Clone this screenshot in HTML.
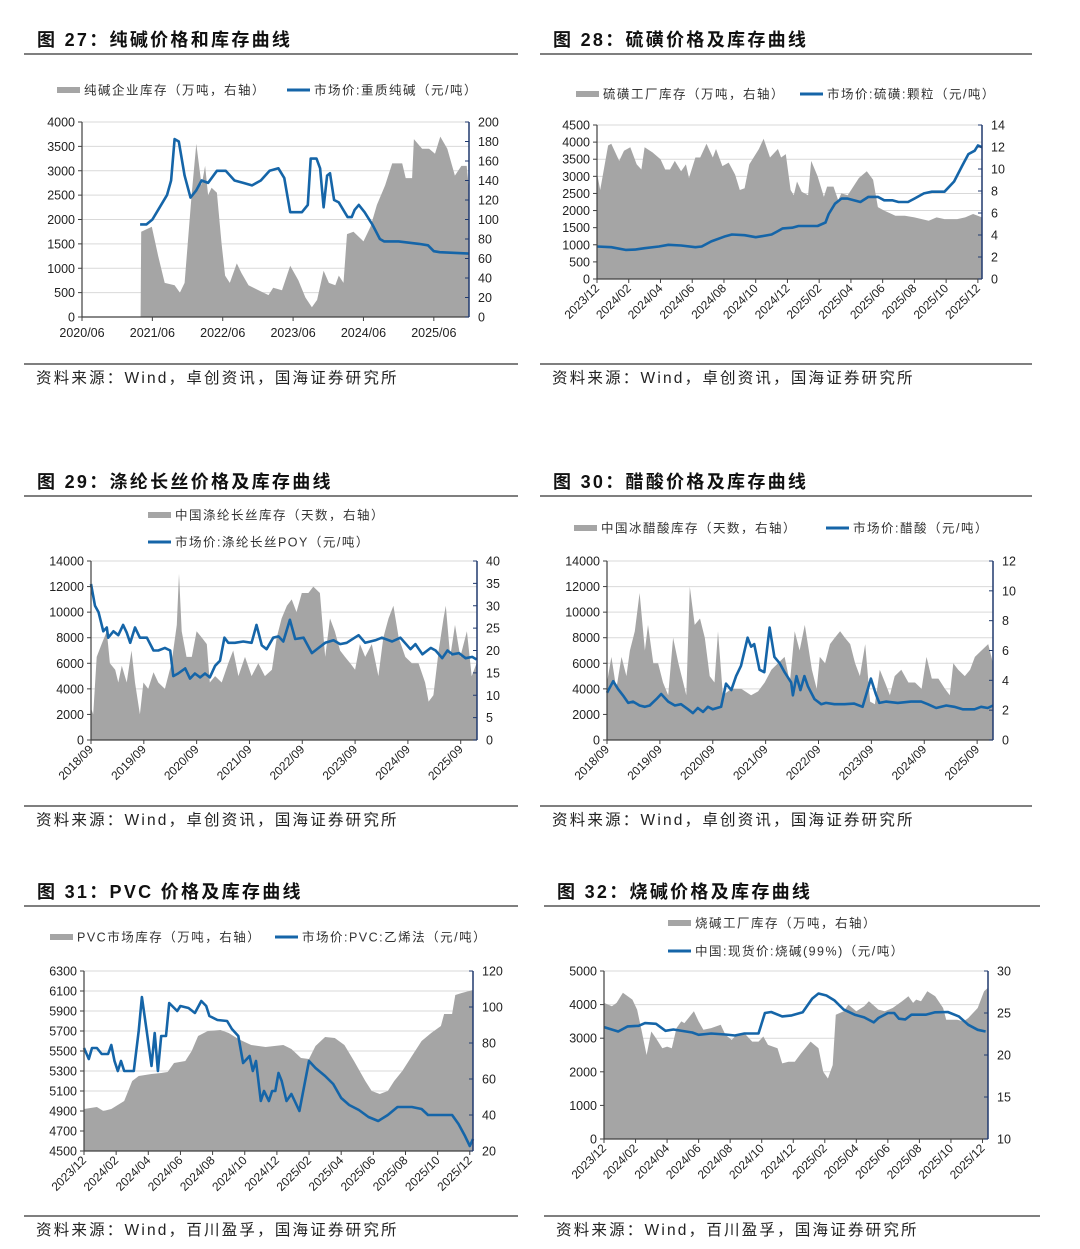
<!DOCTYPE html>
<html><head><meta charset="utf-8">
<style>
html,body{margin:0;padding:0;background:#fff;}
svg{display:block;font-family:"Liberation Sans","Noto Sans CJK SC",sans-serif;}
</style></head>
<body>
<svg id="root" width="1080" height="1249" viewBox="0 0 1080 1249" xmlns="http://www.w3.org/2000/svg"></svg>
<script>
// ===== Chart 27 data =====
const c27StockMonths=[10,10.1,11.9,13,14.1,15.8,16.7,17.5,18.7,19.5,20.4,21,21.5,22.1,23,23.8,24.4,25.2,26.4,27.2,28.4,30.1,31.8,32.6,34.1,35.5,36.9,38.1,39.2,40.1,41.2,42.1,43.2,43.8,44.6,45.2,46.3,48,49.2,50.3,51.7,52.9,54.6,55.2,56.3,56.6,58,59.2,60.2,61.1,62.3,63.6,64.7,65.6,66];
const c27Stock=[0,1750,1850,1250,700,650,500,700,2500,3550,2700,3100,2500,2650,2550,1500,850,700,1100,900,650,550,450,600,550,1050,750,400,200,350,950,700,650,850,700,1700,1750,1550,1850,2300,2700,3150,3150,2850,2850,3650,3450,3450,3350,3700,3450,2900,3100,3100,2600];
const c27PriceMonths=[9.9,11,12,13,14.5,15.2,15.8,16.5,17.5,18.5,19.5,20.4,21.5,23,24.5,26,27.5,29,30.5,32,33.5,34.5,35.5,37.5,38.5,39,40,40.6,41.2,41.8,42.3,43,43.8,45.3,46,46.5,47.2,48.2,49.5,50.8,51.5,54,57.5,59,60,61,66];
const c27Price=[1900,1900,2000,2200,2500,2800,3650,3600,2900,2450,2600,2800,2750,3000,3000,2800,2750,2700,2800,3000,3050,2850,2150,2150,2300,3250,3250,3050,2250,2900,2950,2400,2350,2050,2050,2200,2300,2150,1900,1600,1550,1550,1500,1470,1350,1330,1300];
const c27LeftTicks=[0,500,1000,1500,2000,2500,3000,3500,4000];
const c27RightTicks=[0,20,40,60,80,100,120,140,160,180,200];
const c27XTickMonths=[0,12,24,36,48,60];
const c27XTickLabels=["2020/06","2021/06","2022/06","2023/06","2024/06","2025/06"];

// ===== Chart 28 data =====
const c28StockMonths=[0,0.2,0.7,0.9,1.4,1.7,2.1,2.5,2.8,3.0,3.5,4.0,4.3,4.6,4.9,5.3,5.6,5.8,6.2,6.5,6.9,7.3,7.5,7.9,8.3,8.7,9.0,9.3,9.6,10.2,10.5,10.9,11.4,11.6,11.9,12.2,12.4,12.6,12.9,13.3,13.5,13.9,14.3,14.5,14.9,15.2,15.4,15.8,16.5,17.0,17.4,17.7,18.1,18.8,19.4,20.0,20.9,21.4,21.9,22.7,23.2,23.7,24.26];
const c28Stock=[3100,2600,3900,3950,3450,3750,3850,3350,3200,3850,3700,3500,3200,3200,3450,3150,3350,2950,3550,3550,3950,3550,3800,3300,3400,3050,2600,2650,3350,3800,4100,3550,3800,3550,3650,2600,2450,2850,2550,2450,3450,3000,2400,2700,2700,2300,2500,2450,2950,3150,2900,2100,2000,1850,1850,1800,1700,1800,1750,1750,1800,1900,1800];
const c28PriceMonths=[0,0.9,1.8,2.4,3.0,3.9,4.5,5.3,6.2,6.6,7.2,8.1,8.5,9.3,10.0,10.4,11.0,11.4,11.7,12.3,12.7,13.9,14.4,14.6,15.0,15.4,15.8,16.6,17.1,17.7,18.1,18.6,19.0,19.6,20.0,20.6,21.1,21.9,22.5,23.0,23.4,23.8,24.0,24.26];
const c28Price=[950,930,850,860,900,950,1000,980,930,950,1100,1250,1300,1280,1220,1250,1300,1400,1480,1500,1550,1550,1650,1900,2200,2350,2350,2250,2400,2400,2300,2300,2250,2250,2350,2500,2550,2550,2850,3300,3650,3750,3900,3850];
const c28LeftTicks=[0,500,1000,1500,2000,2500,3000,3500,4000,4500];
const c28RightTicks=[0,2,4,6,8,10,12,14];
const c28XTickMonths=[0,2,4,6,8,10,12,14,16,18,20,22,24];
const c28XTickLabels=["2023/12","2024/02","2024/04","2024/06","2024/08","2024/10","2024/12","2025/02","2025/04","2025/06","2025/08","2025/10","2025/12"];

// ===== Chart 29 data =====
const c29StockMonths=[0,0.5,1.3,2.4,3.6,4.3,5.5,6.2,7,8.1,9.2,10,11.1,11.9,13,14.2,15.3,16.8,18.3,19.5,20,20.6,21.7,22.9,24,25.2,26.3,27,28.2,29.7,31.2,32.3,33.5,35,36.5,38,39.5,41.1,42.2,43.3,44.5,45.6,46.7,47.9,49.4,50.5,52,53.2,54.3,55.4,56.6,57.7,58.9,60,61.1,62.3,63.8,65.3,66.4,67.6,68.7,69.9,71.4,72.9,74.4,75.9,76.7,77.8,79,80.1,80.6,81.6,82.7,83.9,85.4,86.5,87.6];
const c29Stock=[2500,2000,6500,7500,8500,6000,5500,4500,5800,4500,7000,4500,2000,4500,4000,5300,4500,4000,6000,9000,13000,8500,6500,6500,8500,8000,7500,4500,5000,4500,6000,7000,5000,6500,5000,6000,5000,5500,8000,9500,10500,11000,10000,11500,11500,12000,11500,6500,9500,8500,7000,6500,6000,5500,7500,6500,7500,5000,8000,9500,10500,8000,6500,6000,6000,4500,3000,3500,7000,9500,10500,6500,9000,6500,8500,5000,6000];
const c29PriceMonths=[0,0.9,1.7,2.8,3.6,3.9,5.1,6.2,7.3,8.1,8.9,10,11.1,12.7,14.2,15.3,16.8,18,18.7,19.8,21.4,22.5,23.6,24.8,25.9,27,28.2,29.3,30.3,31.2,32.7,34.6,36.5,37.6,38.8,39.9,41.4,42.6,43.7,45.2,46.4,48.3,50.2,51.7,53.2,55.1,56.6,58.1,60.8,62.3,64.6,66.1,68.4,70.3,72.6,73.7,75.3,77.2,78.3,79.8,81,82.1,83.6,85.1,86.6,87.6];
const c29Price=[12200,10500,10000,8500,8800,8000,8500,8200,9000,8400,7600,8800,8000,8000,7000,7000,7200,7000,5000,5200,5600,4800,5200,4900,5200,4900,5800,6200,8000,7600,7600,7700,7600,9000,7400,7100,8000,8100,7700,9400,7900,8000,6800,7200,7600,7800,7500,7600,8200,7600,7800,8000,7700,8000,7100,7500,6700,7200,7000,6400,7000,6700,6800,6400,6500,6300];
const c29LeftTicks=[0,2000,4000,6000,8000,10000,12000,14000];
const c29RightTicks=[0,5,10,15,20,25,30,35,40];
const c29XTickMonths=[0,12,24,36,48,60,72,84];
const c29XTickLabels=["2018/09","2019/09","2020/09","2021/09","2022/09","2023/09","2024/09","2025/09"];

// ===== Chart 30 data =====
const c30StockMonths=[0,1,2.1,3.3,4.4,5.2,6.3,7.4,8.6,9.3,10.5,11.6,12.7,13.9,15,16.2,17.3,18,18.8,19.9,21.1,22.2,23.3,24.4,25.2,26.3,28.2,30.5,32.7,34.3,35.8,37.3,38.8,40.3,41.5,42.6,43.7,44.9,46.5,47.6,48.3,49.5,50.6,51.7,52.9,54,55.2,56.3,57.4,58.6,59.7,60.8,61.9,63.1,64.2,65.3,66.8,68.4,69.9,71.4,72.5,73.7,75.2,76.7,77.8,78.6,79.7,81.2,82.4,83.5,85,86.5,87.6];
const c30Stock=[4500,6500,4000,6500,5000,7000,8500,11500,7000,9000,6000,6000,4500,3500,8000,6000,4500,3500,12000,9000,9500,8000,5000,4500,8500,3500,4000,4000,3500,3800,4500,5500,6000,6500,4500,8500,7000,9000,5500,4000,6500,6000,7500,8000,8500,8000,7500,6000,5000,7500,3000,2800,5500,4500,3500,5000,5500,4500,4500,4000,6500,4800,4800,4000,3500,6000,5500,5000,5500,6500,7000,7500,6000];
const c30PriceMonths=[0,1.4,2.5,3.6,4.8,5.9,7.4,8.6,9.7,11.2,12.3,13.9,15.4,16.8,18.4,19.5,20.6,21.8,22.9,24,25.9,27,28.2,29.3,30.4,31.9,32.7,33.4,34.6,35.7,36.9,38,39.2,40.3,41.8,42.2,43,43.9,44.8,45.6,47.1,48.6,49.7,51.6,53.9,56.1,58,59.9,61,61.8,63.3,66,69,71.3,72.8,74.7,77,78.8,80.7,83.4,84.9,86.4,87.6];
const c30Price=[3700,4600,4000,3500,2900,3000,2700,2600,2700,3200,3600,3000,2700,2800,2400,2100,2500,2200,2600,2400,2600,4400,3900,5000,5800,8000,7300,7500,5500,5300,8800,6500,6000,5300,4500,3500,5000,3900,5000,4200,3200,2800,2900,2800,2800,2850,2600,4800,3600,2900,3000,2900,3000,3000,2800,2500,2700,2600,2400,2400,2600,2500,2700];
const c30LeftTicks=[0,2000,4000,6000,8000,10000,12000,14000];
const c30RightTicks=[0,2,4,6,8,10,12];
const c30XTickMonths=[0,12,24,36,48,60,72,84];
const c30XTickLabels=["2018/09","2019/09","2020/09","2021/09","2022/09","2023/09","2024/09","2025/09"];

// ===== Chart 31 data =====
const c31StockMonths=[0,0.8,1.2,1.7,2.5,3,3.4,4.2,4.8,5.2,5.6,6.3,6.7,7.1,7.7,8.5,9,9.6,10,10.4,11.3,12.4,12.9,13.5,14,14.4,15,15.6,16.2,16.8,17.5,17.9,18.4,18.9,19.3,19.8,20.4,21,21.6,22.2,22.4,22.9,23.1,23.5,24.2];
const c31Stock=[4920,4940,4900,4920,5000,5200,5250,5270,5280,5290,5380,5400,5500,5650,5700,5710,5680,5620,5590,5560,5540,5560,5520,5430,5420,5550,5640,5630,5560,5400,5200,5100,5070,5100,5200,5300,5450,5600,5680,5750,5870,5870,6060,6080,6110];
const c31PriceMonths=[0,0.3,0.5,0.8,1.1,1.5,1.7,1.9,2.1,2.3,2.5,3.1,3.4,3.6,3.9,4.2,4.4,4.6,4.8,5.1,5.3,5.8,6,6.5,6.9,7.3,7.6,7.8,8.3,8.9,9.2,9.6,9.9,10.3,10.5,10.7,11,11.2,11.5,11.7,11.9,12.1,12.3,12.6,12.9,13.4,14,14.4,15,15.5,16,16.5,17.1,17.7,18.3,18.9,19.5,20.4,21,21.4,22.9,23.3,23.7,24,24.2];
const c31Price=[5530,5420,5530,5530,5470,5470,5560,5400,5300,5400,5300,5300,5700,6040,5700,5350,5680,5300,5650,5650,5980,5900,5950,5930,5880,6000,5950,5850,5810,5800,5720,5650,5380,5450,5300,5400,5000,5100,5000,5100,5100,5280,5200,5000,5070,4900,5400,5330,5250,5170,5030,4960,4910,4840,4800,4860,4940,4940,4920,4860,4860,4770,4650,4550,4620];
const c31LeftTicks=[4500,4700,4900,5100,5300,5500,5700,5900,6100,6300];
const c31RightTicks=[20,40,60,80,100,120];
const c31XTickMonths=[0,2,4,6,8,10,12,14,16,18,20,22,24];
const c31XTickLabels=["2023/12","2024/02","2024/04","2024/06","2024/08","2024/10","2024/12","2025/02","2025/04","2025/06","2025/08","2025/10","2025/12"];

// ===== Chart 32 data =====
const c32StockMonths=[0,0.5,0.8,1.2,1.8,2.1,2.4,2.7,3,3.3,3.7,4,4.3,4.6,4.9,5.1,5.7,6,6.3,6.8,7.4,7.7,8.1,8.4,8.9,9.4,9.8,10.1,10.4,11,11.3,11.7,12.1,12.5,13.1,13.6,13.9,14.2,14.5,14.7,15.2,15.5,16,16.5,16.8,17.4,17.8,18.3,18.9,19.3,19.6,19.8,20.1,20.5,21,21.5,21.7,22.4,22.8,23.1,23.7,24.1,24.35];
const c32Stock=[4050,3950,4050,4350,4150,3850,3200,2500,3200,3000,2700,2750,2700,3300,3500,3450,3800,3500,3250,3300,3400,3100,2950,3100,3150,2900,2900,3050,2800,2700,2250,2300,2300,2550,2900,2700,2000,1800,2200,3700,3800,4000,3800,3950,4100,3850,3800,3900,4100,4250,4050,4150,4100,4400,4250,3900,3550,3550,3500,3600,3900,4400,4500];
const c32PriceMonths=[0,0.9,1.5,2.2,2.6,3.3,3.9,4.4,5.6,6,6.8,7.7,8.3,8.9,9.8,10.2,10.6,11.3,11.9,12.6,13.2,13.6,14.1,14.6,15.2,15.9,16.5,17.1,17.4,18,18.4,18.7,19.1,19.5,20.4,21,21.8,22.5,23.1,23.7,24.2];
const c32Price=[3330,3200,3350,3370,3450,3430,3220,3260,3170,3100,3140,3110,3080,3140,3140,3750,3780,3650,3680,3770,4180,4330,4270,4130,3850,3700,3620,3470,3600,3750,3750,3580,3560,3700,3700,3770,3780,3650,3400,3250,3200];
const c32LeftTicks=[0,1000,2000,3000,4000,5000];
const c32RightTicks=[10,15,20,25,30];
const c32XTickMonths=[0,2,4,6,8,10,12,14,16,18,20,22,24];
const c32XTickLabels=["2023/12","2024/02","2024/04","2024/06","2024/08","2024/10","2024/12","2025/02","2025/04","2025/06","2025/08","2025/10","2025/12"];

const NS="http://www.w3.org/2000/svg";
const root=document.getElementById('root');
const GRAY="#a5a5a5", BLUE="#1565a8", NAVY="#203a6e";
function mk(tag,attrs,parent){const e=document.createElementNS(NS,tag);for(const k in attrs)e.setAttribute(k,attrs[k]);(parent||root).appendChild(e);return e;}
function txt(s,attrs,parent){const e=mk('text',attrs,parent);e.textContent=s;return e;}

function drawChart(id,box,xMax,left,right,stockM,stock,priceM,price,xTicks,xLabels,rotated){
  const g=mk('g',{});
  
  
  const xs=m=>box.x0+(m/xMax)*(box.x1-box.x0);
  const yL=v=>box.y1-(v-left.min)/(left.max-left.min)*(box.y1-box.y0);
  left.ticks.forEach(t=>{
    const gl=mk('line',{x1:box.x0,x2:box.x1,y1:yL(t),y2:yL(t),stroke:'#d9d9d9','stroke-width':1},g);
    
    
  });
  let d='M'+xs(stockM[0]).toFixed(1)+','+yL(left.min).toFixed(1);
  for(let i=0;i<stock.length;i++)d+='L'+xs(stockM[i]).toFixed(1)+','+yL(stock[i]).toFixed(1);
  d+='L'+xs(stockM[stockM.length-1]).toFixed(1)+','+yL(left.min).toFixed(1)+'Z';
  const ar=mk('path',{d:d,fill:GRAY,stroke:'none'},g);
  
  
  let p='';
  for(let i=0;i<price.length;i++)p+=(i?'L':'M')+xs(priceM[i]).toFixed(1)+','+yL(price[i]).toFixed(1);
  const ln=mk('path',{d:p,fill:'none',stroke:BLUE,'stroke-width':2.6,'stroke-linejoin':'round'},g);
  
  
  const la=mk('line',{x1:box.x0,x2:box.x0,y1:box.y0,y2:box.y1,stroke:'#404040','stroke-width':1.2},g);
  
  
  const ba=mk('line',{x1:box.x0,x2:box.x1,y1:box.y1,y2:box.y1,stroke:'#404040','stroke-width':1.2},g);
  
  
  const ra=mk('line',{x1:box.x1,x2:box.x1,y1:box.y0,y2:box.y1,stroke:NAVY,'stroke-width':1.5},g);
  
  
  left.ticks.forEach(t=>{
    mk('line',{x1:box.x0-4,x2:box.x0,y1:yL(t),y2:yL(t),stroke:'#404040'},g);
    const tl=txt(String(t),{x:box.x0-7,y:yL(t)+4.5,'text-anchor':'end','font-size':12.5,fill:'#222'},g);
    
    
  });
  right.ticks.forEach(t=>{
    const y=box.y1-(t-right.min)/(right.max-right.min)*(box.y1-box.y0);
    mk('line',{x1:box.x1-4,x2:box.x1,y1:y,y2:y,stroke:NAVY},g);
    const tl=txt(String(t),{x:box.x1+9,y:y+4.5,'font-size':12.5,fill:'#222'},g);
    
    
  });
  xTicks.forEach((m,i)=>{
    const x=xs(m);
    mk('line',{x1:x,x2:x,y1:box.y1,y2:box.y1+4,stroke:'#404040'},g);
    let tl;
    if(rotated){
      tl=txt(xLabels[i],{x:x+3,y:box.y1+10,'text-anchor':'end','font-size':12,fill:'#222',transform:'rotate(-45 '+(x+3)+' '+(box.y1+10)+')'},g);
    }else{
      tl=txt(xLabels[i],{x:x,y:box.y1+20,'text-anchor':'middle','font-size':12.5,fill:'#222'},g);
    }
    
    
  });
}

function legendArea(x,y,label,w){
  const r=mk('rect',{x:x,y:y-3,width:w||23,height:6,fill:GRAY});
  
  
  const t=txt(label,{x:x+(w||23)+4,y:y+4.5,'font-size':12.5,fill:'#333','letter-spacing':'1.5px'});
  
  
}
function legendLine(x,y,label,w){
  const r=mk('line',{x1:x,x2:x+(w||23),y1:y,y2:y,stroke:BLUE,'stroke-width':3});
  
  
  const t=txt(label,{x:x+(w||23)+4,y:y+4.5,'font-size':12.5,fill:'#333','letter-spacing':'1.5px'});
  
  
}
function title(x,y,num,label,x1,x2){
  const t=mk('text',{x:x,y:y,'font-size':18,'font-weight':'bold',fill:'#111','letter-spacing':'2.3px'});
  t.textContent='图 '+num+'：'+label;
  
  
  const l=mk('line',{x1:x1,x2:x2,y1:y+8,y2:y+8,stroke:'#7f7f7f','stroke-width':2});
  
  
}
function source(x,y,label,x1,x2){
  const l=mk('line',{x1:x1,x2:x2,y1:y-14,y2:y-14,stroke:'#7f7f7f','stroke-width':2});
  
  
  const t=txt(label,{x:x,y:y+5,'font-size':15.5,fill:'#222','letter-spacing':'2.2px'});
  
  
}

title(37,46,'27','纯碱价格和库存曲线',24,518);
title(553,46,'28','硫磺价格及库存曲线',540,1032);
title(37,488,'29','涤纶长丝价格及库存曲线',24,518);
title(553,488,'30','醋酸价格及库存曲线',540,1032);
title(37,898,'31','PVC 价格及库存曲线',24,518);
title(557,898,'32','烧碱价格及库存曲线',544,1040);

legendArea(57,90,'纯碱企业库存（万吨，右轴）');
legendLine(287,90,'市场价:重质纯碱（元/吨）');
legendArea(576,94,'硫磺工厂库存（万吨，右轴）');
legendLine(800,94,'市场价:硫磺:颗粒（元/吨）');
legendArea(148,515,'中国涤纶长丝库存（天数，右轴）');
legendLine(148,542,'市场价:涤纶长丝POY（元/吨）');
legendArea(574,528,'中国冰醋酸库存（天数，右轴）');
legendLine(826,528,'市场价:醋酸（元/吨）');
legendArea(50,937,'PVC市场库存（万吨，右轴）');
legendLine(275,937,'市场价:PVC:乙烯法（元/吨）');
legendArea(668,923,'烧碱工厂库存（万吨，右轴）');
legendLine(668,951,'中国:现货价:烧碱(99%)（元/吨）');

drawChart('soda-ash',{x0:82,x1:469,y0:122,y1:317},66,{min:0,max:4000,ticks:c27LeftTicks},{min:0,max:200,ticks:c27RightTicks},c27StockMonths,c27Stock,c27PriceMonths,c27Price,c27XTickMonths,c27XTickLabels,false);
drawChart('sulfur',{x0:597,x1:982,y0:125,y1:279},24.26,{min:0,max:4500,ticks:c28LeftTicks},{min:0,max:14,ticks:c28RightTicks},c28StockMonths,c28Stock,c28PriceMonths,c28Price,c28XTickMonths,c28XTickLabels,true);
drawChart('polyester-filament',{x0:91,x1:477,y0:561,y1:740},87.7,{min:0,max:14000,ticks:c29LeftTicks},{min:0,max:40,ticks:c29RightTicks},c29StockMonths,c29Stock,c29PriceMonths,c29Price,c29XTickMonths,c29XTickLabels,true);
drawChart('acetic-acid',{x0:607,x1:993,y0:561,y1:740},87.6,{min:0,max:14000,ticks:c30LeftTicks},{min:0,max:12,ticks:c30RightTicks},c30StockMonths,c30Stock,c30PriceMonths,c30Price,c30XTickMonths,c30XTickLabels,true);
drawChart('pvc',{x0:84,x1:473,y0:971,y1:1151},24.2,{min:4500,max:6300,ticks:c31LeftTicks},{min:20,max:120,ticks:c31RightTicks},c31StockMonths,c31Stock,c31PriceMonths,c31Price,c31XTickMonths,c31XTickLabels,true);
drawChart('caustic-soda',{x0:604,x1:988,y0:971,y1:1139},24.35,{min:0,max:5000,ticks:c32LeftTicks},{min:10,max:30,ticks:c32RightTicks},c32StockMonths,c32Stock,c32PriceMonths,c32Price,c32XTickMonths,c32XTickLabels,true);

source(36,378,'资料来源：Wind，卓创资讯，国海证券研究所',24,518);
source(552,378,'资料来源：Wind，卓创资讯，国海证券研究所',540,1032);
source(36,820,'资料来源：Wind，卓创资讯，国海证券研究所',24,518);
source(552,820,'资料来源：Wind，卓创资讯，国海证券研究所',540,1032);
source(36,1230,'资料来源：Wind，百川盈孚，国海证券研究所',24,518);
source(556,1230,'资料来源：Wind，百川盈孚，国海证券研究所',544,1040);
</script>
</body></html>
